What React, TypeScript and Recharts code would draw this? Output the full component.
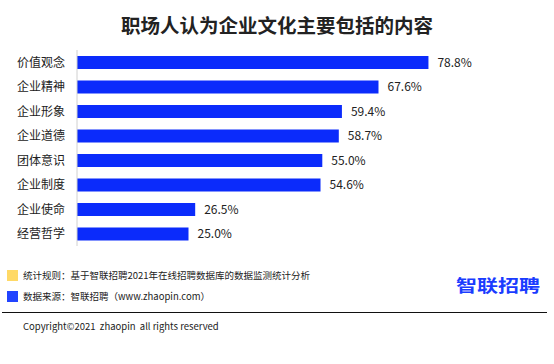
import React from "react";
import { BarChart, Bar, XAxis, YAxis, LabelList } from "recharts";

const categories = ["价值观念", "企业精神", "企业形象", "企业道德", "团体意识", "企业制度", "企业使命", "经营哲学"];
const shares = [78.8, 67.6, 59.4, 58.7, 55.0, 54.6, 26.5, 25.0];

const data = categories.map((name, i) => ({ name, value: shares[i] }));

const FONT = '"Noto Sans CJK SC", "Noto Sans", sans-serif';

const App: React.FC = () => {
  return (
    <div
      style={{
        position: "absolute",
        left: 0,
        top: 0,
        width: 554,
        height: 364,
        background: "#fff",
        fontFamily: FONT,
        color: "#222",
      }}
    >
      <div
        style={{
          position: "absolute",
          left: 0,
          top: 12,
          width: 554,
          textAlign: "center",
          fontSize: 19.5,
          fontWeight: 700,
          lineHeight: "26px",
        }}
      >
        职场人认为企业文化主要包括的内容
      </div>

      <div style={{ position: "absolute", left: 0, top: 0 }}>
        <BarChart
          width={554}
          height={260}
          data={data}
          layout="vertical"
          margin={{ top: 50, right: 31, bottom: 14, left: 0 }}
        >
          <XAxis type="number" domain={[0, 100]} hide />
          <YAxis
            type="category"
            dataKey="name"
            width={77}
            tickLine={false}
            tickMargin={6}
            axisLine={{ stroke: "#d0d0d0" }}
            tick={{ fontSize: 12, fill: "#222", fontFamily: FONT }}
          />
          <Bar dataKey="value" fill="#0b2bfb" barSize={13} isAnimationActive={false}>
            <LabelList
              dataKey="value"
              position="right"
              offset={9}
              formatter={(v: any) => `${Number(v).toFixed(1)}%`}
              style={{ fontSize: 12, fill: "#222", fontFamily: FONT }}
            />
          </Bar>
        </BarChart>
      </div>

      <div style={{ position: "absolute", left: 7, top: 270, width: 11, height: 11, background: "#ffd966" }} />
      <div style={{ position: "absolute", left: 23, top: 268, fontSize: 9.5, lineHeight: "14px", whiteSpace: "pre" }}>
        统计规则：基于智联招聘2021年在线招聘数据库的数据监测统计分析
      </div>
      <div style={{ position: "absolute", left: 7, top: 291, width: 11, height: 11, background: "#2244ff" }} />
      <div style={{ position: "absolute", left: 23, top: 289, fontSize: 9.5, lineHeight: "14px", whiteSpace: "pre" }}>
        数据来源：智联招聘（www.zhaopin.com）
      </div>

      <div
        style={{
          position: "absolute",
          left: 456,
          top: 272,
          fontSize: 21,
          fontWeight: 700,
          color: "#1a3cff",
          lineHeight: "26px",
          whiteSpace: "pre",
          transform: "scaleY(0.8)",
          transformOrigin: "left center",
        }}
      >
        智联招聘
      </div>

      <div style={{ position: "absolute", left: 2, top: 312, width: 545, height: 1, background: "#111" }} />
      <div style={{ position: "absolute", left: 23, top: 319, fontSize: 9.5, lineHeight: "14px", whiteSpace: "pre" }}>
        {"Copyright©2021  zhaopin  all rights reserved"}
      </div>
    </div>
  );
};

export default App;
